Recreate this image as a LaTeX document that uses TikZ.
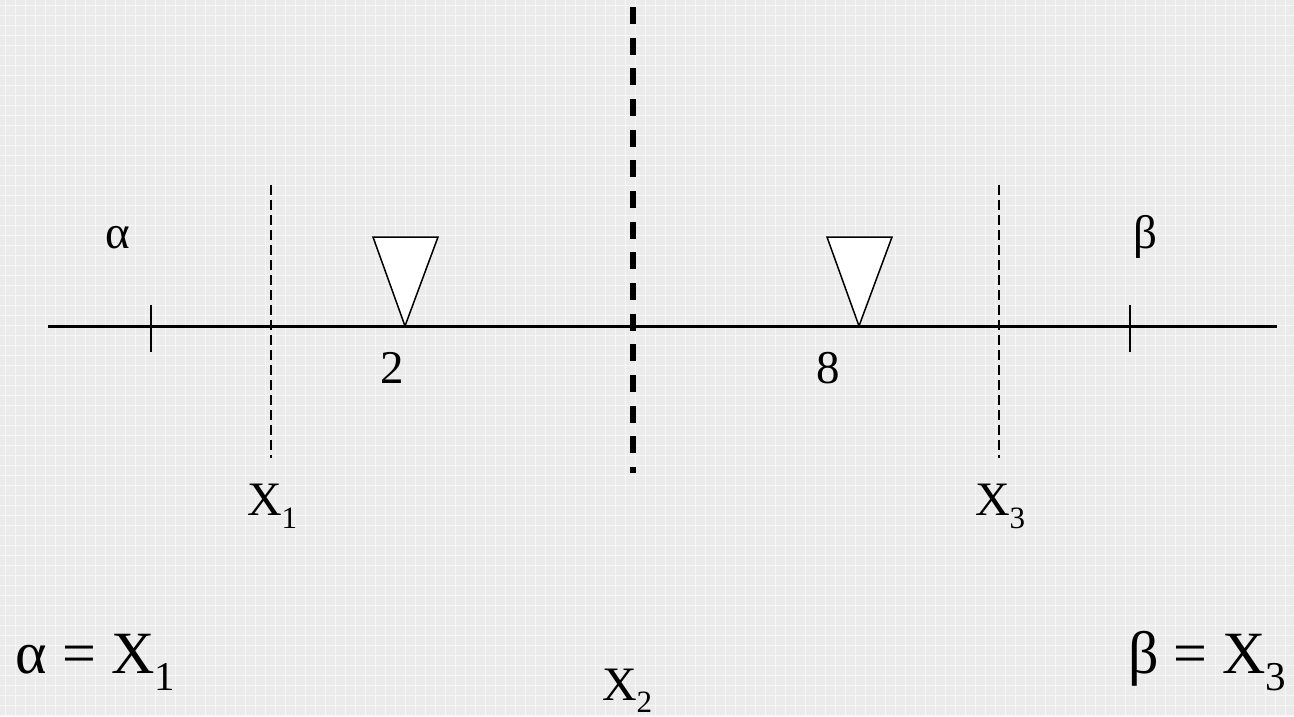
\documentclass[tikz,border=0pt]{standalone}
\usepackage{fontspec}
\setmainfont{Liberation Serif}
\newfontfamily\tms{Liberation Serif}
\definecolor{bgfill}{HTML}{EBEBEB}
\definecolor{gridline}{HTML}{F6F6F6}
\newcommand\lowsub[3]{\raisebox{-#1pt}{\fontsize{#2pt}{#2pt}\selectfont #3}}
\tikzset{
  axisline/.style={line width=3pt},
  tickline/.style={line width=1.5pt},
  thindash/.style={line width=2pt, dash pattern=on 10pt off 5pt},
  thickdash/.style={line width=5.5pt, dash pattern=on 17pt off 13.67pt},
  marker/.style={fill=white, draw=black, line width=1.5pt, line join=miter},
  lab/.style={anchor=base west, inner sep=0pt, outer sep=0pt, font=\tms\fontsize{47pt}{47pt}\selectfont},
  xlab/.style={anchor=base west, inner sep=0pt, outer sep=0pt, font=\tms\fontsize{48pt}{48pt}\selectfont},
  biglab/.style={anchor=base west, inner sep=0pt, outer sep=0pt, font=\tms\fontsize{60pt}{60pt}\selectfont}
}
\begin{document}
\begin{tikzpicture}[x=1pt,y=-1pt]
\useasboundingbox (0,0) rectangle (1294,716);
% background
\fill[bgfill] (0,0) rectangle (1294,716);
\foreach \i in {5,15,...,1294} \draw[gridline, line width=1pt] (\i,0) -- (\i,716);
\foreach \j in {5,15,...,716} \draw[gridline, line width=1pt] (0,\j) -- (1294,\j);
% coordinates
\coordinate (L) at (48,326);
\coordinate (R) at (1277,326);
\coordinate (ta1) at (151,305); \coordinate (ta2) at (151,352);
\coordinate (tb1) at (1130,305); \coordinate (tb2) at (1130,352);
\coordinate (d1a) at (271,185); \coordinate (d1b) at (271,458);
\coordinate (d3a) at (999,185); \coordinate (d3b) at (999,458);
\coordinate (d2a) at (633,7); \coordinate (d2b) at (633,473);
\coordinate (p1) at (405,326); \coordinate (p1l) at (373,237); \coordinate (p1r) at (438,237);
\coordinate (p2) at (859,326); \coordinate (p2l) at (827,237); \coordinate (p2r) at (892,237);
% main line and ticks
\draw[axisline] (L) -- (R);
\draw[tickline] (ta1) -- (ta2);
\draw[tickline] (tb1) -- (tb2);
% dashed verticals
\draw[thindash] (d1a) -- (d1b);
\draw[thindash] (d3a) -- (d3b);
\draw[thickdash] (d2a) -- (d2b);
% triangles
\draw[marker] (p1) -- (p1l) -- (p1r) -- cycle;
\draw[marker] (p2) -- (p2l) -- (p2r) -- cycle;
% labels
\node[lab] (alpha) at (105,248) {α};
\node[lab] (beta) at (1133,248) {β};
\node[lab] (two) at (380,383) {2};
\node[lab] (eight) at (816,383) {8};
\node[xlab] (x1) at (247,515) {X\lowsub{13}{31}{1}};
\node[xlab] (x3) at (975,515) {X\lowsub{13}{31}{3}};
\node[xlab] (x2) at (602,700) {X\lowsub{12}{31}{2}};
\node[biglab] (eqa) at (16,673) {α = X\lowsub{17}{41}{1}};
\node[biglab] (eqb) at (1128,673) {β = X\lowsub{17}{41}{3}};
\end{tikzpicture}
\end{document}
